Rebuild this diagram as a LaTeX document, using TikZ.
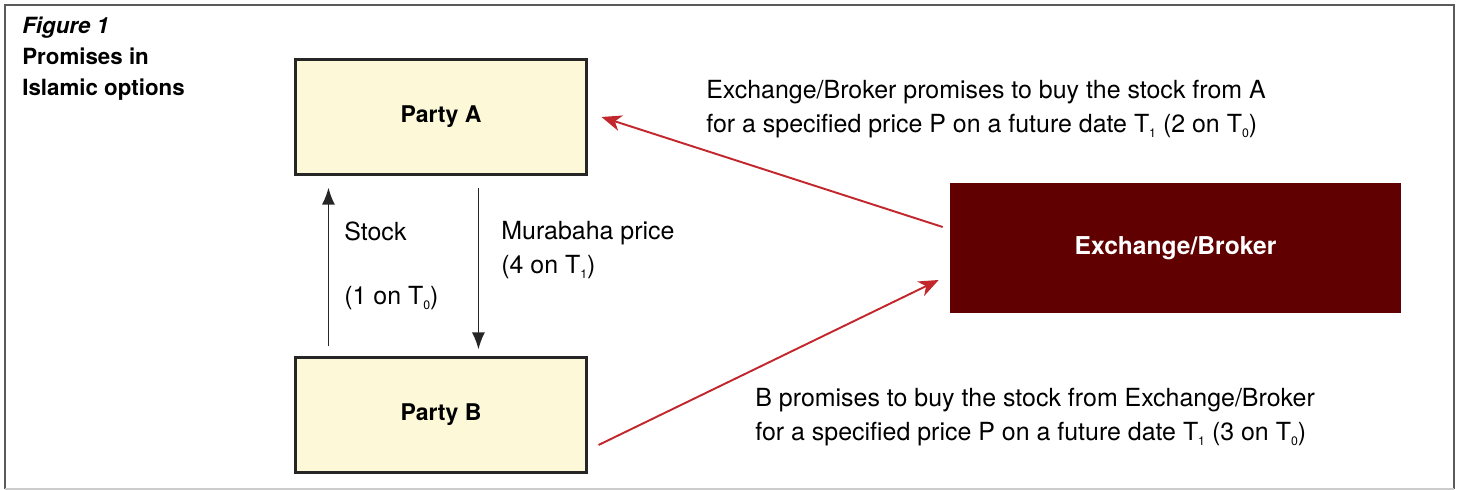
\documentclass[tikz,border=0pt]{standalone}
\usepackage{fontspec}
\setmainfont{TeX Gyre Heros}
\usetikzlibrary{arrows.meta}
\definecolor{partyfill}{HTML}{FCF8D8}
\definecolor{brokerfill}{HTML}{600000}
\definecolor{promisered}{HTML}{C1272D}
\definecolor{framegrey}{HTML}{5A5A5A}
\newcommand{\tsub}[1]{\raisebox{-0.45ex}{\fontsize{7}{8}\selectfont #1}}
\begin{document}
\begin{tikzpicture}[x=0.02cm, y=-0.02cm,
  every node/.style={font=\fontsize{14.2}{19.2}\selectfont, align=left, inner sep=0pt},
  partybox/.style={draw=black!85, line width=1.2pt, fill=partyfill, minimum width=5.82cm, minimum height=2.3cm, font=\fontsize{13.1}{16}\selectfont\bfseries},
  flow/.style={-{Latex[length=3.4mm, width=2.6mm]}, line width=1pt, black!85},
  promise/.style={-{Stealth[length=4mm, width=3.2mm, inset=1.2mm]}, line width=1.1pt, promisered}]
\useasboundingbox (0,0) rectangle (1461,490);
% frame
\draw[framegrey, line width=1pt] (5,489) -- (5,5) -- (1454,5) -- (1454,489);
\draw[black!20, line width=1pt] (5,489) -- (1454,489);
% title
\node[anchor=base west, font=\fontsize{12.7}{16}\selectfont\bfseries\itshape] (fig) at (22,33) {Figure 1};
\node[anchor=base west, font=\fontsize{12.7}{17.6}\selectfont\bfseries] (title) at (22,95) {Promises in\\Islamic options};
% boxes
\node[partybox] (partyA) at (441,117) {Party A};
\node[partybox] (partyB) at (441,415) {Party B};
\node[fill=brokerfill, text=white, minimum width=9.02cm, minimum height=2.6cm, font=\fontsize{14}{16}\selectfont\bfseries] (broker) at (1175.5,248) {Exchange/Broker};
% flows between A and B
\draw[flow] ([xshift=0.68cm, yshift=0.2cm]partyB.north west) -- ([xshift=0.68cm, yshift=-0.24cm]partyA.south west);
\draw[flow] ([xshift=3.68cm, yshift=-0.24cm]partyA.south west) -- ([xshift=3.68cm, yshift=0.14cm]partyB.north west);
\node[anchor=base west] (stock) at (344,240) {Stock};
\node[anchor=base west] (stockT) at (344,304) {(1 on T\tsub{0})};
\node[anchor=base west] (murabaha) at (501,273) {Murabaha price\\(4 on T\tsub{1})};
% promises
\draw[promise] ([xshift=-0.14cm, yshift=0.42cm]broker.west) -- ([xshift=0.28cm]partyA.east);
\draw[promise] ([xshift=0.22cm, yshift=-0.6cm]partyB.east) -- ([xshift=-0.22cm, yshift=-0.64cm]broker.west);
\node[anchor=base west] (promiseA) at (706,132) {Exchange/Broker promises to buy the stock from A\\for a specified price P on a future date T\tsub{1} (2 on T\tsub{0})};
\node[anchor=base west] (promiseB) at (755,440) {B promises to buy the stock from Exchange/Broker\\for a specified price P on a future date T\tsub{1} (3 on T\tsub{0})};
\end{tikzpicture}
\end{document}
